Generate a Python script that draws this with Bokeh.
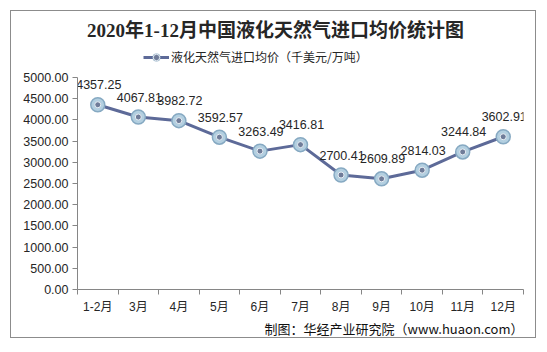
from bokeh.plotting import figure
from bokeh.models import (Range1d, FixedTicker, PrintfTickFormatter, Title, Label,
                          Legend, LegendItem, ColumnDataSource)
from bokeh.core.properties import value
from bokeh.embed import file_html
from bokeh.resources import INLINE

# ---- data ----
months = ["1-2月", "3月", "4月", "5月", "6月", "7月", "8月", "9月", "10月", "11月", "12月"]
prices = [4357.25, 4067.81, 3982.72, 3592.57, 3263.49, 3416.81, 2700.41, 2609.89, 2814.03, 3244.84, 3602.91]
y_ticks = [0, 500, 1000, 1500, 2000, 2500, 3000, 3500, 4000, 4500, 5000]
y_max = 5000
title_text = "2020年1-12月中国液化天然气进口均价统计图"
series_name = "液化天然气进口均价（千美元/万吨）"
source_text = "制图：华经产业研究院（www.huaon.com）"

n = len(months)
xs = [i + 0.5 for i in range(n)]
src = ColumnDataSource(dict(x=xs, y=prices, lab=["%.2f" % v for v in prices]))

FONT_NUM = "Liberation Sans, Noto Sans CJK SC"
FONT_CJK = "Noto Sans CJK SC"

# geometry (pixels): frame spans full height above the x axis; the value axis covers 0..5000
FRAME_H = 278          # canvas 11 .. 289
AXIS_H = 212           # canvas 77 .. 289 for 0..5000
y_top = y_max * FRAME_H / AXIS_H

p = figure(width=526, height=328, output_backend="svg", toolbar_location=None,
           x_range=Range1d(0, n), y_range=Range1d(0, y_top),
           min_border_left=66, min_border_right=14, min_border_top=0, min_border_bottom=50,
           background_fill_color="white", border_fill_color="white",
           margin=(10, 0, 0, 10))
p.styles = {"border": "1px solid #8C8C8C"}
p.outline_line_color = None
p.grid.visible = False
p.title.visible = False

# axes
ax = p.xaxis[0]
ax.ticker = FixedTicker(ticks=xs, minor_ticks=list(range(n + 1)))
ax.major_label_overrides = {x: m for x, m in zip(xs, months)}
ax.major_tick_line_color = None
ax.minor_tick_line_color = "#868686"
ax.minor_tick_in = 0
ax.minor_tick_out = 5
ax.axis_line_color = "#868686"
ax.major_label_text_font = FONT_NUM
ax.major_label_text_font_size = "12px"
ax.major_label_text_color = "#262626"
ax.major_label_standoff = 4

ay = p.yaxis[0]
ay.ticker = FixedTicker(ticks=y_ticks)
ay.bounds = (0, y_max)
ay.formatter = PrintfTickFormatter(format="%.2f")
ay.minor_tick_line_color = None
ay.major_tick_line_color = "#868686"
ay.major_tick_in = 0
ay.major_tick_out = 5
ay.axis_line_color = "#868686"
ay.major_label_text_font = FONT_NUM
ay.major_label_text_font_size = "12.5px"
ay.major_label_text_color = "#262626"
ay.major_label_standoff = 4

# series
ln = p.line("x", "y", source=src, line_color="#5D6A98", line_width=3)
outer = p.scatter("x", "y", source=src, size=14, fill_color="#B3CFE0",
                  line_color="#86A9C2", line_width=1.5)
inner = p.scatter("x", "y", source=src, size=6, fill_color="#6F7C99",
                  line_color="#E8EEF4", line_width=1)
p.text("x", "y", text="lab", source=src, text_align="center", text_baseline="middle",
       y_offset=-20, x_offset=1, text_font=value(FONT_NUM), text_font_size="12.5px",
       text_color="#262626")

# title inside the (tall) frame, above the value axis
p.add_layout(Label(x=(275 - 77) / 446 * n, y=(289 - 30) / AXIS_H * y_max,
                   text=title_text, text_align="center", text_baseline="middle",
                   text_font="Liberation Serif, Noto Sans CJK SC", text_font_size="19px",
                   text_font_style="bold", text_color="#262626"))

# legend
legend = Legend(items=[LegendItem(label=series_name, renderers=[ln, outer, inner])],
                location=(66, 224), orientation="horizontal",
                padding=0, margin=0, border_line_color=None, background_fill_alpha=0,
                glyph_width=26, glyph_height=16, label_height=16, label_standoff=2,
                label_text_font=FONT_CJK, label_text_font_size="12px",
                label_text_color="#262626")
p.add_layout(legend, "center")

# source note
p.add_layout(Title(text=source_text, align="right", text_font=FONT_CJK,
                   text_font_size="13px", text_font_style="normal",
                   text_color="#111111", standoff=0), "below")

open("out.html", "w").write(file_html(p, INLINE))
